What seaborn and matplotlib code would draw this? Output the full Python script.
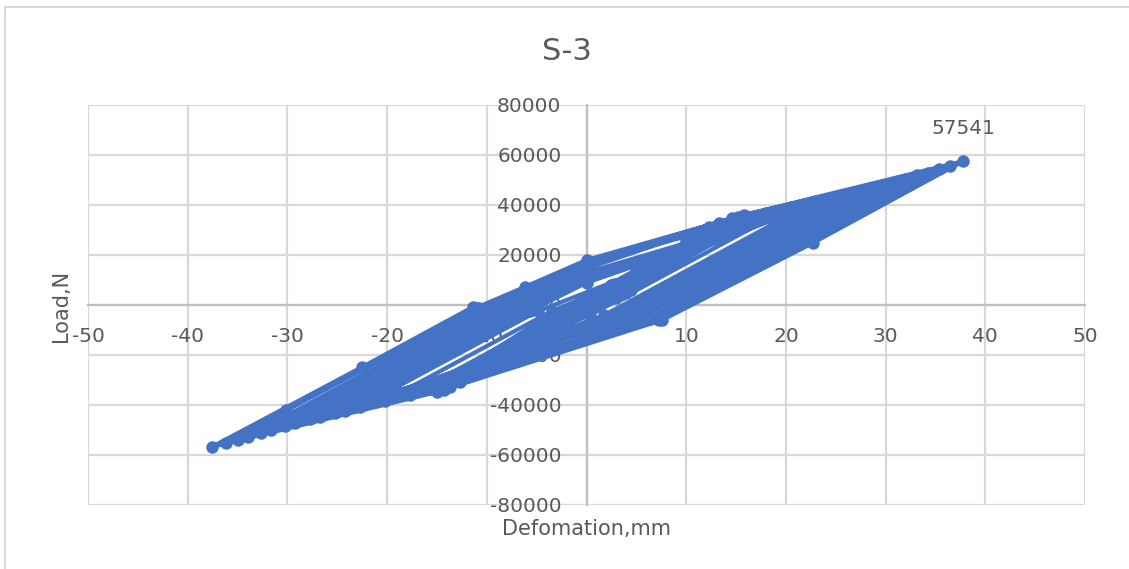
import matplotlib
matplotlib.use("Agg")
import matplotlib.pyplot as plt
import seaborn as sns
import pandas as pd
from matplotlib.lines import Line2D

# ---- data (deformation in mm, load in N) ----
# small cycles around the origin
small_disp = [0, 2.5, -1.0, -2.5, 1.0, 2.8, -1.2, -2.8, 1.2,
              5.0, -1.5, -5.0, 1.5, 5.4, -1.8, -5.3, 1.8,
              7.5, -2.0, -7.5, 2.0, 8.0, -2.2, -8.0, 2.2,
              10.0, -2.5, -10.0, 2.5, 10.5, -2.8, -10.5, 2.8]
small_load = [0, 8000, -500, -7500, 500, 8500, -800, -8200, 800,
              14000, -1500, -13500, 1500, 14800, -2000, -14200, 2000,
              19500, -2500, -19000, 2500, 20500, -3000, -20000, 3000,
              25500, -3500, -25000, 3500, 26500, -4000, -26000, 4000]

# medium cycles
mid_disp = [12.0, -3.0, -12.0, 3.0, 13.5, -3.5, -13.0, 3.5,
            15.0, -4.0, -14.0, 4.0, 16.5, -4.5, -15.5, 4.5]
mid_load = [29000, -3000, -28500, 3000, 31500, -4000, -30500, 4000,
            33500, -5000, -32000, 5000, 34500, -6000, -33500, 6000]

# large cycles
large_disp = [18.0, -0.9, -17.7, -2.1,
              20.5, 0.4, -20.2, -3.5,
              23.0, 1.8, -22.7, -4.9,
              24.5, 2.6, -24.2, -5.7,
              0, 25.5, 2.9, -25.2, -6.0,
              0, 27.0, 3.8, -26.7, -6.9,
              0, 28.0, 4.4, -27.7, -7.5,
              0, 29.5, 4.9, -29.2, -8.2,
              0, 12.3, 30.5, 5.4, -12.7, -30.2, -8.5,
              0, 13.3, 32.0, 6.3, -13.7, -31.6, -9.3,
              0, 33.1, 6.4, -32.6, -9.6,
              0, 14.6, 34.3, 7.1, -14.3, -34.0, -10.2,
              0, 15.2, 35.4, 7.3, -35.0, -30.1, -10.8,
              0, 36.5, 7.4, -36.2, -11.0,
              -6.2, 0, 15.8, 37.8, 22.7, 7.6, -15.0, -37.6, -22.5, -11.4]
large_load = [36700, -4000, -36000, -2500,
              39200, -4000, -38300, -2500,
              41600, -4000, -40700, -2500,
              43000, -4000, -42300, -2500,
              8900, 44000, -4500, -43200, -2000,
              10000, 45400, -4500, -44600, -2000,
              11800, 46200, -4500, -45500, -2000,
              13000, 47800, -5000, -47000, -1800,
              14600, 31200, 48900, -5000, -30800, -48500, -1800,
              15200, 33000, 50300, -5000, -32800, -49800, -1800,
              16800, 52000, -5500, -51000, -1500,
              17000, 34800, 53000, -5500, -33800, -52600, -1500,
              17300, 35400, 54600, -5900, -54000, -42000, -1200,
              17400, 55600, -5500, -55200, -1000,
              7200, 18000, 36000, 57541, 24800, -6000, -34800, -56800, -24800, -800]

peak_disp = 37.8
peak_load = 57541

x_ticks = list(range(-50, 51, 10))
y_ticks = list(range(-80000, 80001, 20000))

df = pd.DataFrame({
    "Defomation": small_disp + mid_disp + large_disp,
    "Load": small_load + mid_load + large_load,
})

sns.set_style("white")
plt.rcParams["font.family"] = ["DejaVu Sans"]
plt.rcParams["axes.unicode_minus"] = False

grey_txt = "#595959"
grid_c = "#D9D9D9"
blue = "#4472C4"

fig = plt.figure(figsize=(11.29, 5.69), dpi=100)
ax = fig.add_axes([88 / 1129, 1 - 505 / 569, 997 / 1129, 400 / 569])

sns.lineplot(data=df, x="Defomation", y="Load", sort=False, estimator=None,
             color=blue, lw=3.0, marker="o", markersize=9,
             markeredgewidth=0, ax=ax, zorder=3)

ax.set_xlim(-50, 50)
ax.set_ylim(-80000, 80000)
ax.set_xticks(x_ticks)
ax.set_yticks(y_ticks)
ax.grid(True, color=grid_c, lw=1.6)
for gl in ax.get_xgridlines() + ax.get_ygridlines():
    gl.set_clip_on(False)

# axes cross at zero, like the spreadsheet chart
for s in ["top", "right"]:
    ax.spines[s].set_visible(False)
ax.spines["left"].set_position(("data", 0))
ax.spines["bottom"].set_position(("data", 0))
ax.spines["left"].set_color("#BFBFBF")
ax.spines["bottom"].set_color("#BFBFBF")
ax.spines["left"].set_linewidth(1.6)
ax.spines["bottom"].set_linewidth(1.6)
ax.tick_params(axis="y", length=0, pad=18, labelsize=14.5, labelcolor=grey_txt)
ax.tick_params(axis="x", length=0, pad=16, labelsize=14.5, labelcolor=grey_txt)
ax.set_xlabel("")
ax.set_ylabel("")

ax.annotate(str(peak_load), (peak_disp, peak_load), xytext=(0, 33),
            textcoords="offset pixels", ha="center", va="center",
            fontsize=14.5, color=grey_txt)

fig.text(567 / 1129, 1 - 51 / 569, "S-3", ha="center", va="center",
         fontsize=22, color=grey_txt)
fig.text(586 / 1129, 1 - 529 / 569, "Defomation,mm", ha="center", va="center",
         fontsize=15, color=grey_txt)
fig.text(61 / 1129, 1 - 306 / 569, "Load,N", ha="center", va="center",
         rotation=90, fontsize=15, color=grey_txt)

# chart area border (top and left edges visible)
fig.add_artist(Line2D([5 / 1129, 1], [1 - 7 / 569, 1 - 7 / 569],
                      transform=fig.transFigure, color=grid_c, lw=1.5))
fig.add_artist(Line2D([5 / 1129, 5 / 1129], [0, 1 - 7 / 569],
                      transform=fig.transFigure, color=grid_c, lw=1.5))

fig.savefig("out.png", dpi=100)
